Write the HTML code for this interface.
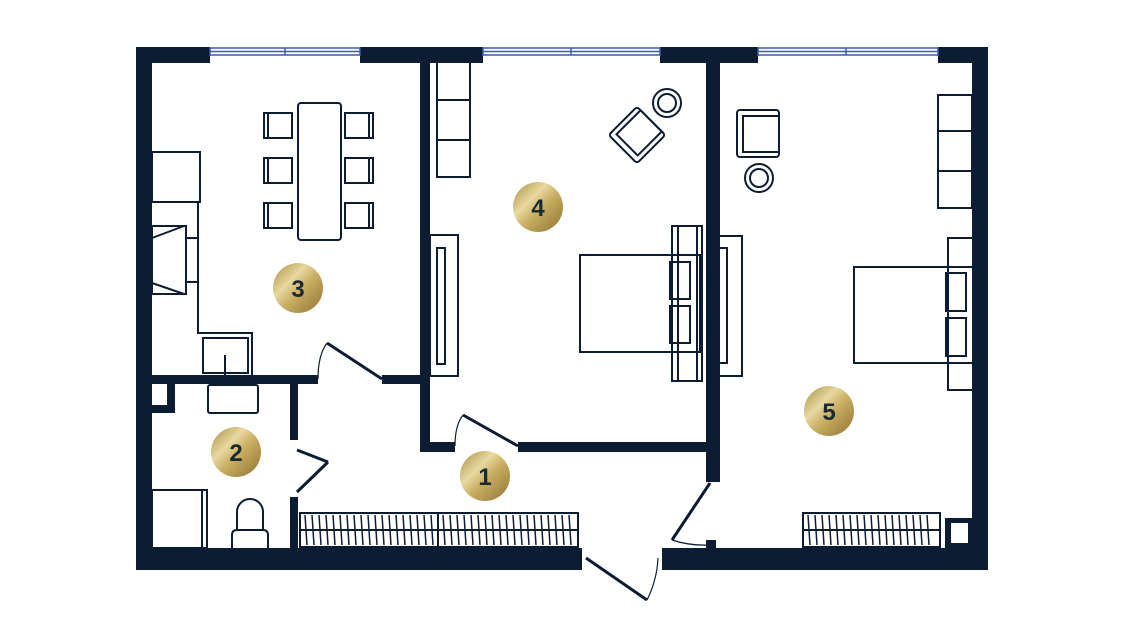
<!DOCTYPE html>
<html><head><meta charset="utf-8"><style>
html,body{margin:0;padding:0;background:#fff;width:1121px;height:630px;overflow:hidden}
svg{display:block}
text{font-family:"Liberation Sans",sans-serif;font-weight:bold;fill:#1a2a33}
</style></head><body>
<svg width="1121" height="630" viewBox="0 0 1121 630" xmlns="http://www.w3.org/2000/svg">
<defs>
<linearGradient id="g" x1="0" y1="0" x2="1" y2="1">
<stop offset="0" stop-color="#a88a3c"/><stop offset="0.35" stop-color="#e8d9a0"/><stop offset="0.55" stop-color="#c9ad62"/><stop offset="1" stop-color="#8f7330"/>
</linearGradient>
</defs>
<g fill="#0c1c33">
<!-- outer walls -->
<rect x="136" y="47" width="74" height="16"/>
<rect x="360" y="47" width="123" height="16"/>
<rect x="660" y="47" width="98" height="16"/>
<rect x="938" y="47" width="50" height="16"/>
<rect x="136" y="47" width="16" height="523"/>
<rect x="972" y="47" width="16" height="523"/>
<rect x="136" y="548" width="446" height="22"/>
<rect x="662" y="548" width="326" height="22"/>
<!-- interior -->
<rect x="420" y="62" width="10" height="390"/>
<rect x="420" y="442" width="35" height="10"/>
<rect x="518" y="442" width="198" height="10"/>
<rect x="706" y="62" width="14" height="420"/>
<rect x="706" y="540" width="10" height="10"/>
<rect x="152" y="375" width="166" height="9"/>
<rect x="382" y="375" width="40" height="9"/>
<rect x="290" y="384" width="8" height="56"/>
<rect x="290" y="497" width="8" height="52"/>
<rect x="167" y="384" width="8" height="29"/>
<rect x="152" y="405" width="23" height="8"/>
<rect x="945" y="518" width="27" height="30"/>
</g>
<rect x="951" y="523" width="17" height="20" fill="#fff"/>
<!-- windows -->
<g fill="#fff" stroke="#3d5aa8" stroke-width="1.5">
<rect x="210" y="48" width="150" height="7"/><line x1="210" y1="51.5" x2="360" y2="51.5"/><line x1="285" y1="48" x2="285" y2="55"/>
<rect x="483" y="48" width="177" height="7"/><line x1="483" y1="51.5" x2="660" y2="51.5"/><line x1="571" y1="48" x2="571" y2="55"/>
<rect x="758" y="48" width="180" height="7"/><line x1="758" y1="51.5" x2="938" y2="51.5"/><line x1="846" y1="48" x2="846" y2="55"/>
</g>
<!-- furniture -->
<g fill="none" stroke="#0c1c33" stroke-width="2">
<rect x="298" y="103" width="43" height="137" rx="3"/>
<rect x="264" y="113" width="28" height="25"/><rect x="264" y="158" width="28" height="25"/><rect x="264" y="203" width="28" height="25"/>
<rect x="345" y="113" width="28" height="25"/><rect x="345" y="158" width="28" height="25"/><rect x="345" y="203" width="28" height="25"/>
<line x1="268" y1="113" x2="268" y2="138"/><line x1="268" y1="158" x2="268" y2="183"/><line x1="268" y1="203" x2="268" y2="228"/>
<line x1="369" y1="113" x2="369" y2="138"/><line x1="369" y1="158" x2="369" y2="183"/><line x1="369" y1="203" x2="369" y2="228"/>
<rect x="152" y="152" width="48" height="50"/>
<polyline points="198,202 198,333 252,333 252,375"/>
<rect x="152" y="226" width="34" height="68"/><polyline points="152,238 184,226"/><polyline points="152,283 184,294"/>
<rect x="186" y="238" width="12" height="44"/>
<rect x="203" y="338" width="45" height="35"/><line x1="225" y1="355" x2="225" y2="375"/>
<rect x="208" y="385" width="50" height="28" rx="2"/>
<rect x="152" y="490" width="55" height="58"/><line x1="202" y1="490" x2="202" y2="548"/>
<path d="M237 530 V512 a13 13 0 0 1 26 0 V530 M232 548 V535 q0 -5 5 -5 h26 q5 0 5 5 V548"/>
<!-- wardrobes -->
<rect x="300" y="513" width="278" height="34"/><line x1="300" y1="530" x2="578" y2="530"/><line x1="438" y1="513" x2="438" y2="547"/>
<rect x="803" y="513" width="137" height="34"/><line x1="803" y1="530" x2="940" y2="530"/>
<!-- room 4 -->
<rect x="437" y="62" width="33" height="115"/><line x1="437" y1="100" x2="470" y2="100"/><line x1="437" y1="140" x2="470" y2="140"/>
<rect x="430" y="235" width="28" height="141"/><rect x="437" y="248" width="8" height="116"/>
<rect x="580" y="255" width="120" height="97"/>
<rect x="672" y="226" width="30" height="155"/><line x1="678" y1="226" x2="678" y2="381"/><line x1="697" y1="226" x2="697" y2="381"/>
<rect x="670" y="262" width="20" height="37"/><rect x="670" y="306" width="20" height="37"/>
<g transform="rotate(45 637 135)"><rect x="617" y="115" width="40" height="40" rx="3"/><rect x="622" y="115" width="30" height="34"/></g>
<circle cx="667" cy="103" r="14"/><circle cx="667" cy="103" r="9"/>
<!-- room 5 -->
<rect x="938" y="95" width="34" height="113"/><line x1="938" y1="131" x2="972" y2="131"/><line x1="938" y1="171" x2="972" y2="171"/>
<rect x="717" y="236" width="25" height="140"/><rect x="718" y="248" width="9" height="115"/>
<rect x="737" y="110" width="42" height="47" rx="3"/><rect x="743" y="116" width="36" height="36"/>
<circle cx="759" cy="178" r="14"/><circle cx="759" cy="178" r="9"/>
<rect x="854" y="267" width="120" height="96"/>
<rect x="948" y="238" width="30" height="152"/><line x1="973" y1="238" x2="973" y2="390"/>
<rect x="946" y="273" width="20" height="38"/><rect x="946" y="318" width="20" height="38"/>
</g>
<!-- wardrobe hatching -->
<g stroke="#0c1c33" stroke-width="1.5">
<path d="M305 515 l2 30 M312 515 l2 30 M319 515 l2 30 M326 515 l2 30 M333 515 l2 30 M340 515 l2 30 M347 515 l2 30 M354 515 l2 30 M361 515 l2 30 M368 515 l2 30 M375 515 l2 30 M382 515 l2 30 M389 515 l2 30 M396 515 l2 30 M403 515 l2 30 M410 515 l2 30 M417 515 l2 30 M424 515 l2 30 M431 515 l2 30
M443 515 l2 30 M450 515 l2 30 M457 515 l2 30 M464 515 l2 30 M471 515 l2 30 M478 515 l2 30 M485 515 l2 30 M492 515 l2 30 M499 515 l2 30 M506 515 l2 30 M513 515 l2 30 M520 515 l2 30 M527 515 l2 30 M534 515 l2 30 M541 515 l2 30 M548 515 l2 30 M555 515 l2 30 M562 515 l2 30 M569 515 l2 30
M808 515 l2 30 M815 515 l2 30 M822 515 l2 30 M829 515 l2 30 M836 515 l2 30 M843 515 l2 30 M850 515 l2 30 M857 515 l2 30 M864 515 l2 30 M871 515 l2 30 M878 515 l2 30 M885 515 l2 30 M892 515 l2 30 M899 515 l2 30 M906 515 l2 30 M913 515 l2 30 M920 515 l2 30 M927 515 l2 30"/>
</g>
<!-- doors -->
<g fill="none" stroke="#0c1c33" stroke-width="3">
<line x1="382" y1="379" x2="327" y2="343"/><line x1="297" y1="450" x2="328" y2="462"/><line x1="328" y1="462" x2="297" y2="492"/>
<line x1="518" y1="446" x2="463" y2="415"/><line x1="710" y1="483" x2="672" y2="540"/><line x1="586" y1="558" x2="647" y2="600"/>
</g>
<g fill="none" stroke="#0c1c33" stroke-width="1.2">
<path d="M318 379 Q318 355 327 343"/><path d="M455 446 Q455 425 463 415"/><path d="M672 540 Q690 546 710 545"/><path d="M647 600 Q657 580 658 558"/>
</g>
<!-- badges -->
<g>
<circle cx="298" cy="288" r="25" fill="url(#g)"/><text x="298" y="297" font-size="24" text-anchor="middle">3</text>
<circle cx="538" cy="207" r="25" fill="url(#g)"/><text x="538" y="216" font-size="24" text-anchor="middle">4</text>
<circle cx="236" cy="452" r="25" fill="url(#g)"/><text x="236" y="461" font-size="24" text-anchor="middle">2</text>
<circle cx="485" cy="476" r="25" fill="url(#g)"/><text x="485" y="485" font-size="24" text-anchor="middle">1</text>
<circle cx="829" cy="411" r="25" fill="url(#g)"/><text x="829" y="420" font-size="24" text-anchor="middle">5</text>
</g>
</svg>
</body></html>
